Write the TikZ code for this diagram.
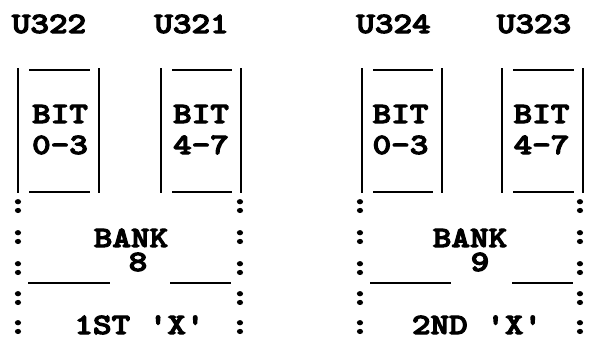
\documentclass[tikz,border=0pt]{standalone}
\usepackage{graphicx}
\usepackage{fontspec}
\newfontfamily\asciifont{lmmonolt10-bold.otf}[FakeBold=3.5]
\newcommand\asciitxt[1]{\scalebox{1.2}[1]{#1}}
\tikzset{
  lbl/.style={anchor=base, inner sep=0pt, outer sep=0pt,
    font=\asciifont\fontsize{29.5}{29.5}\selectfont},
  rule/.style={line width=2.6pt, line cap=butt},
}
\begin{document}
\begin{tikzpicture}[x=1pt,y=-1pt]
\useasboundingbox (0,0) rectangle (589,341);
% chip labels
\node[lbl] (u322) at (49,33) {\asciitxt{U322}};
\node[lbl] (u321) at (191.5,33) {\asciitxt{U321}};
\node[lbl] (u324) at (393.5,33) {\asciitxt{U324}};
\node[lbl] (u323) at (534,33) {\asciitxt{U323}};
% chip boxes
\foreach \l/\r in {18/99,161/241,362/442,502/583}{
  \draw[rule] (\l,68) -- (\l,193);
  \draw[rule] (\r,68) -- (\r,193);
  \draw[rule] (\l+11,70) -- (\r-9,70);
  \draw[rule] (\l+11,192) -- (\r-9,192);
}
% bit labels
\node[lbl] (b1) at (60,123) {\asciitxt{BIT}};
\node[lbl] (b1n) at (60,154) {\asciitxt{0-3}};
\node[lbl] (b2) at (201,123) {\asciitxt{BIT}};
\node[lbl] (b2n) at (201,154) {\asciitxt{4-7}};
\node[lbl] (b3) at (400.5,123) {\asciitxt{BIT}};
\node[lbl] (b3n) at (400.5,154) {\asciitxt{0-3}};
\node[lbl] (b4) at (541.5,123) {\asciitxt{BIT}};
\node[lbl] (b4n) at (541.5,154) {\asciitxt{4-7}};
% colons
\foreach \x in {18,240,360,580}{
  \foreach \y [count=\i] in {206,237,268,298,327}{
    \node[lbl] (c-\x-\i) at (\x,\y+6.5) {\asciitxt{:}};
  }
}
% bank labels
\node[lbl] (bank8) at (131,247) {\asciitxt{BANK}};
\node[lbl] (n8) at (138,271) {\asciitxt{8}};
\node[lbl] (bank9) at (470,247) {\asciitxt{BANK}};
\node[lbl] (n9) at (480,271) {\asciitxt{9}};
\draw[rule] (28,283) -- (110,283);
\draw[rule] (170,283) -- (231,283);
\draw[rule] (370,283) -- (451,283);
\draw[rule] (512,283) -- (573,283);
\node[lbl] (x1) at (139.5,334) {\asciitxt{1ST 'X'}};
\node[lbl] (x2) at (477,334) {\asciitxt{2ND 'X'}};
\end{tikzpicture}
\end{document}
